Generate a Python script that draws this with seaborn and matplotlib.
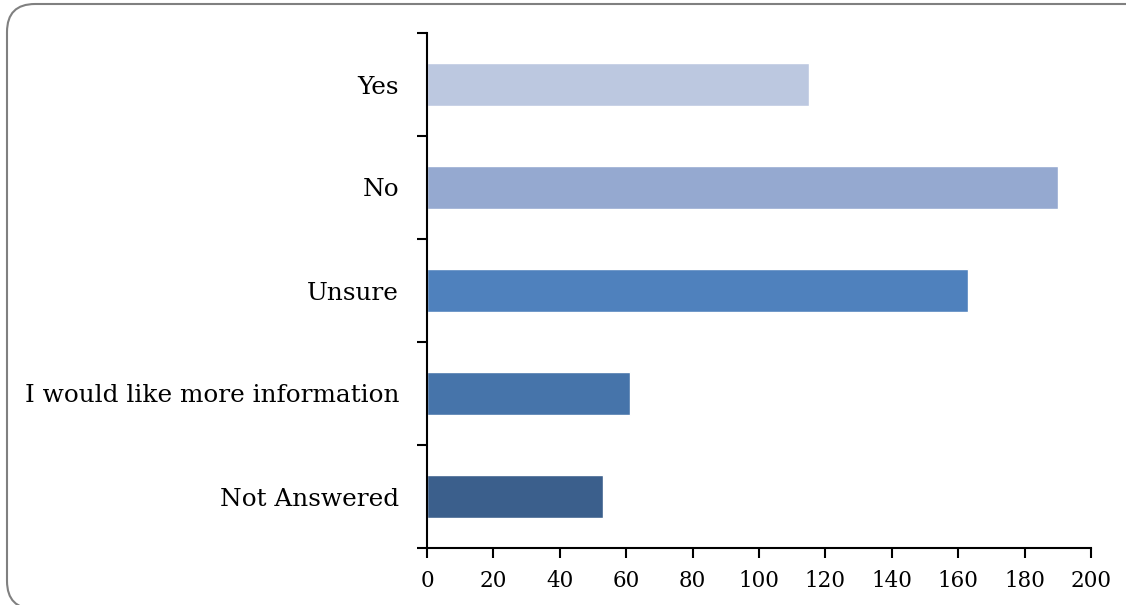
import numpy as np
import matplotlib
matplotlib.use("Agg")
import matplotlib.pyplot as plt
import seaborn as sns
from matplotlib.patches import FancyBboxPatch

categories = ["Yes", "No", "Unsure", "I would like more information", "Not Answered"]
counts = [115, 190, 163, 61, 53]
bar_colors = ["#BCC8E0", "#95A9D0", "#4F81BD", "#4674AA", "#3B5F8C"]
x_ticks = [0, 20, 40, 60, 80, 100, 120, 140, 160, 180, 200]

sns.set_style("white")
plt.rcParams["font.family"] = ["DejaVu Serif"]
plt.rcParams["text.color"] = "black"
plt.rcParams["xtick.color"] = "black"
plt.rcParams["ytick.color"] = "black"

fig = plt.figure(figsize=(11.26, 6.05), dpi=100)
ax = fig.add_axes([427 / 1126, 57 / 605, 664 / 1126, 515 / 605])

sns.barplot(x=counts, y=categories, hue=categories, palette=bar_colors,
            legend=False, width=0.41, saturation=1, ax=ax)

ax.set_xlim(0, 200)
ax.set_ylim(4.5, -0.5)
ax.set_xticks(x_ticks)
ax.set_xticklabels([str(t) for t in x_ticks], fontsize=15.5)
ax.set_yticks(range(len(categories)))
ax.set_yticklabels(categories, fontsize=17.8)
ax.set_yticks(np.arange(-0.5, len(categories), 1), minor=True)
ax.tick_params(axis="y", which="major", length=0, pad=20, labelcolor="black")
ax.tick_params(axis="y", which="minor", length=7, width=1.5, color="black", left=True)
ax.tick_params(axis="x", which="major", length=7, width=1.5, color="black", bottom=True,
               pad=9, labelcolor="black")
ax.set_xlabel("")
ax.set_ylabel("")

sns.despine(ax=ax, top=True, right=True)
for side in ["left", "bottom"]:
    ax.spines[side].set_color("black")
    ax.spines[side].set_linewidth(1.5)

# rounded chart-area border, partly running off the canvas
border = FancyBboxPatch((7, -4), 1148, 605, boxstyle="round,pad=0,rounding_size=28",
                        transform=None, facecolor="none", edgecolor="#808080",
                        linewidth=1.5, clip_on=False)
fig.add_artist(border)

fig.savefig("out.png", dpi=100, facecolor="white")
